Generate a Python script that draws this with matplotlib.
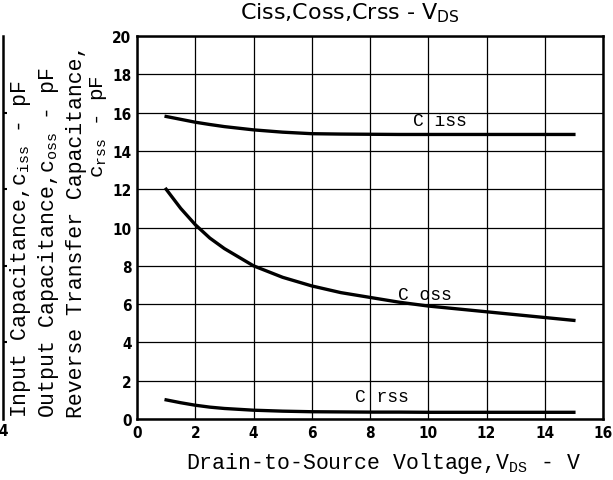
import matplotlib
matplotlib.use("Agg")
import matplotlib.pyplot as plt

# ── Data ───────────────────────────────────────────────────────────────────
vds = [1, 1.5, 2, 2.5, 3, 4, 5, 6, 7, 8, 9, 10, 11, 12, 13, 14, 15]
ciss = [15.8, 15.65, 15.5, 15.38, 15.27, 15.1, 14.98, 14.9, 14.88, 14.87,
        14.86, 14.86, 14.86, 14.86, 14.86, 14.86, 14.86]
coss = [12.0, 11.0, 10.15, 9.45, 8.9, 8.0, 7.4, 6.95, 6.6, 6.35, 6.1,
        5.9, 5.75, 5.6, 5.45, 5.3, 5.15]
crss = [1.0, 0.85, 0.72, 0.62, 0.55, 0.46, 0.41, 0.38, 0.37, 0.36, 0.36,
        0.35, 0.35, 0.35, 0.35, 0.35, 0.35]

xticks = [0, 2, 4, 6, 8, 10, 12, 14, 16]
yticks = [0, 2, 4, 6, 8, 10, 12, 14, 16, 18, 20]

mono = "Liberation Mono"
plt.rcParams.update({
    "mathtext.fontset": "custom",
    "mathtext.rm": "Liberation Mono",
    "mathtext.it": "Liberation Mono",
    "mathtext.sf": "DejaVu Sans",
})
tickfont = {"family": "DejaVu Sans", "weight": "bold", "size": 11,
            "stretch": "condensed"}

fig = plt.figure(figsize=(6.13, 4.81), dpi=100)

# ── Cut-off neighbouring chart at the far left ─────────────────────────────
ax0 = fig.add_axes([-0.3, 0.1268, 0.3055, 0.7962])
ax0.set_xlim(0, 4)
ax0.set_ylim(0, 5)
for s in ["top", "bottom", "left"]:
    ax0.spines[s].set_visible(False)
ax0.spines["right"].set_linewidth(1.8)
ax0.yaxis.tick_right()
ax0.set_yticks([1, 2, 3, 4])
ax0.set_yticklabels([])
ax0.tick_params(axis="y", direction="out", length=3, width=1.5)
ax0.set_xticks([4])
ax0.set_xticklabels(["4"], fontdict=tickfont)
ax0.tick_params(axis="x", length=0, pad=3)

# ── Main chart ─────────────────────────────────────────────────────────────
ax = fig.add_axes([0.2235, 0.1268, 0.7602, 0.7962])
ax.plot(vds, ciss, color="black", lw=2.4)
ax.plot(vds, coss, color="black", lw=2.4)
ax.plot(vds, crss, color="black", lw=2.4)

ax.set_xlim(0, 16)
ax.set_ylim(0, 20)
ax.set_xticks(xticks)
ax.set_yticks(yticks)
ax.set_xticklabels([str(t) for t in xticks], fontdict=tickfont)
ax.set_yticklabels([str(t) for t in yticks], fontdict=tickfont)
ax.tick_params(length=0, pad=4)
ax.grid(True, color="black", lw=0.9)
for s in ax.spines.values():
    s.set_linewidth(1.8)

ax.text(10.4, 15.6, "C iss", family=mono, fontsize=13, ha="center", va="center")
ax.text(9.9, 6.5, "C oss", family=mono, fontsize=13, ha="center", va="center")
ax.text(8.4, 1.15, "C rss", family=mono, fontsize=13, ha="center", va="center")

fig.text(0.571, 0.972, r"Ciss,Coss,Crss - V$\mathsf{_{DS}}$", family="DejaVu Sans",
         fontsize=16, ha="center", va="center")
fig.text(0.626, 0.037, r"Drain-to-Source Voltage,V$_{\mathrm{DS}}$ - V",
         family=mono, fontsize=15.5, ha="center", va="center")

# stacked y-axis labels
fig.text(0.033, 0.131, r"Input Capacitance,c$_{\mathrm{iss}}$ - pF", family=mono,
         fontsize=15.5, rotation=90, ha="center", va="bottom")
fig.text(0.079, 0.131, r"Output Capacitance,c$_{\mathrm{oss}}$ - pF", family=mono,
         fontsize=15.5, rotation=90, ha="center", va="bottom")
fig.text(0.125, 0.131, "Reverse Transfer Capacitance,", family=mono,
         fontsize=15.5, rotation=90, ha="center", va="bottom")
fig.text(0.16, 0.63, r"c$_{\mathrm{rss}}$ - pF", family=mono,
         fontsize=15, rotation=90, ha="center", va="bottom")

plt.savefig("out.png", dpi=100)
plt.close()
print("Saved: out.png")
